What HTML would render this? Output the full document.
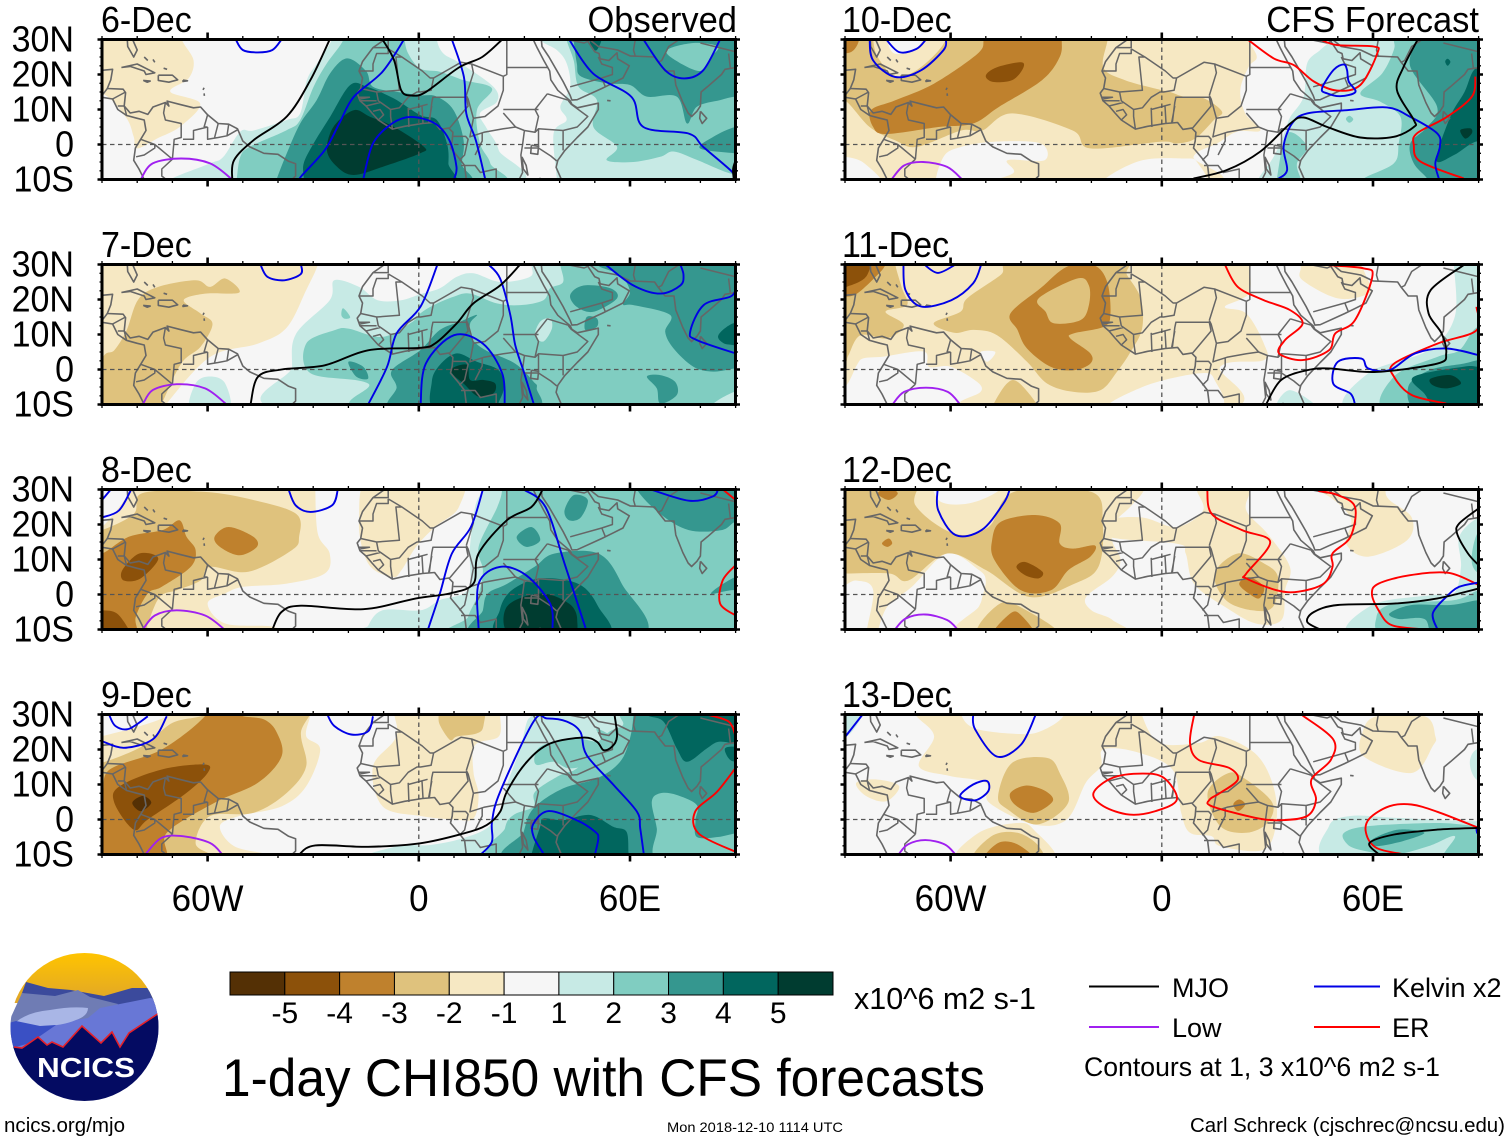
<!DOCTYPE html>
<html lang="en">
<head>
<meta charset="utf-8">
<title>1-day CHI850 with CFS forecasts</title>
<style>
html,body{margin:0;padding:0;background:#fff;}
svg{display:block;font-family:"Liberation Sans",sans-serif;}
</style>
</head>
<body>
<svg id="chart" xmlns="http://www.w3.org/2000/svg" width="1510" height="1142" viewBox="0 0 1510 1142">
  <rect x="0" y="0" width="1510" height="1142" fill="#fff"/>
  <defs id="defs"></defs>
  <g id="panels"></g>
  <g id="colorbar"></g>

  <g>
    <defs>
      <clipPath id="logoClip"><circle cx="84.5" cy="1027" r="74"/></clipPath>
      <linearGradient id="sky" x1="0" y1="0" x2="0" y2="1"><stop offset="0" stop-color="#ffc400"/><stop offset="1" stop-color="#dfa52a"/></linearGradient>
    </defs>
    <g clip-path="url(#logoClip)">
      <rect x="10" y="953" width="150" height="50" fill="url(#sky)"/>
      <path d="M5 1040L26 982L48 988L71 990L104 996L132 988L165 988L165 1040Z" fill="#3b4a9c"/>
      <path d="M5 1030L22 993L55 996L78 990L90 997L118 1004L100 1030L40 1040Z" fill="#6f7cb4"/>
      <path d="M5 1060L16 1030L50 1024L88 1018L100 1008L150 998L165 1000L165 1060Z" fill="#6877d6"/>
      <path d="M16 1022Q28 1012 50 1010Q72 1006 88 1008Q88 1016 76 1020Q62 1026 42 1026Q26 1027 16 1022Z" fill="#a9b6e6"/>
      <path d="M5 1024L16 1021L40 1026L56 1025L30 1043L5 1050Z" fill="#3a50c4"/>
      <path d="M14 1047L22 1048L38 1037L47 1045L52 1042L63 1047L82 1026L101 1043L112 1032L120 1047L129 1033L159 1013L165 1013L165 1110L5 1110L5 1047Z" fill="#040b62"/>
      <path d="M14 1047L22 1048L38 1037L47 1045L52 1042L63 1047L82 1026L101 1043L112 1032L120 1047L129 1033L159 1013" fill="none" stroke="#e5202a" stroke-width="1.6"/>
    </g>
    <text x="37" y="1077" font-size="28" font-weight="bold" fill="#fff" textLength="98" lengthAdjust="spacingAndGlyphs">NCICS</text>
  </g>

  <text x="854" y="1009" font-size="30.5" fill="#000" textLength="182" lengthAdjust="spacingAndGlyphs">x10^6 m2 s-1</text>
  <text x="222" y="1096" font-size="53" fill="#000" textLength="763" lengthAdjust="spacingAndGlyphs">1-day CHI850 with CFS forecasts</text>

  <g font-size="27" fill="#000">
    <line x1="1089" x2="1159" y1="986.5" y2="986.5" stroke="#000" stroke-width="2"/>
    <text x="1172" y="997">MJO</text>
    <line x1="1314" x2="1380" y1="986.5" y2="986.5" stroke="#0000e6" stroke-width="2"/>
    <text x="1392" y="997">Kelvin x2</text>
    <line x1="1089" x2="1159" y1="1027" y2="1027" stroke="#a020f0" stroke-width="2"/>
    <text x="1172" y="1037">Low</text>
    <line x1="1314" x2="1380" y1="1027" y2="1027" stroke="#ff0000" stroke-width="2"/>
    <text x="1392" y="1037">ER</text>
    <text x="1084" y="1076" textLength="356" lengthAdjust="spacingAndGlyphs">Contours at 1, 3 x10^6 m2 s-1</text>
  </g>

  <text x="4" y="1132" font-size="20.5" fill="#000" textLength="121" lengthAdjust="spacingAndGlyphs">ncics.org/mjo</text>
  <text x="667" y="1132" font-size="14" fill="#000" textLength="176" lengthAdjust="spacingAndGlyphs">Mon 2018-12-10 1114 UTC</text>
  <text x="1190" y="1132" font-size="20.5" fill="#000" textLength="315" lengthAdjust="spacingAndGlyphs">Carl Schreck (cjschrec@ncsu.edu)</text>
</svg>

<script>
/* ---------- categories and tick labels ---------- */
const panelDates = ['6-Dec','7-Dec','8-Dec','9-Dec','10-Dec','11-Dec','12-Dec','13-Dec'];
const latTicks = [30,20,10,0,-10];
const latLabels = ['30N','20N','10N','0','10S'];
const lonTicks = [-60,0,60];
const lonLabels = ['60W','0','60E'];
const barLevels = [-5,-4,-3,-2,-1,1,2,3,4,5];
const barLabels = ['-5','-4','-3','-2','-1','1','2','3','4','5'];
const levelKeys = [-5,-4,-3,-2,-1,0,1,2,3,4,5];
const levelColors = ['#543005','#8c510a','#bf812d','#dfc27d','#f6e8c3','#f6f6f6','#c7eae5','#80cdc1','#35978f','#01665e','#003c30'];

/* ---------- shaded CHI850 regions: [level, [lon,lat,...]] painted in order ---------- */
const fill_6Dec = [
[-1,[-95,14.5,-89,14.1,-83,7.5,-81,2.2,-80,-1.1,-74.4,1.7,-67.8,5.1,-62.1,11.7,-70.6,15.1,-65.4,18.9,-64,24.1,-67.3,30,-67.3,35,-95,35]],
[1,[-24.7,35,-24.7,30,-28.9,23.2,-31.8,18.4,-33.7,8.9,-37.5,7,-47,4,-50.7,3.7,-55.5,-3.5,-59.3,-5.4,-70.1,-9.7,-72,-12,23.6,-12,22.7,-1.6,19.3,4.6,17.4,8.9,22.2,12.2,21.2,16.5,11.8,23.2,7,26,5.1,30,5,35]],
[1,[34.5,35,34.5,30,39.2,27,42,23.2,43,16.5,40.2,10.8,42,7,38.3,3.2,39.2,-9.7,39.2,-12,95,-12,95,35]],
[2,[-21.4,35,-21.4,30,-26.1,23.2,-29.9,16.5,-33.7,7,-37.5,4.1,-47.9,-.6,-50.7,-3.5,-51.7,-9.7,-52,-12,19.8,-12,20.3,-5.4,17.4,.3,16.5,9.8,20.8,16,12.7,18.4,6,20.8,.4,21.7,-3,26,-4,30,-4,35]],
[2,[42,35,42,30,44,24,45.4,16.5,50.6,12.7,49.6,5,56.3,-.6,53.4,-4.5,61,-5,68.6,-3.5,72.4,-2,79,-4.4,88.5,-8.3,95,-9,95,35]],
[3,[-20.4,24.6,-25.2,20.3,-29,12.7,-33.7,6,-37.5,-2.5,-40.3,-9.7,-41,-12,11.3,-12,12.2,-5.4,12.7,1.3,9.9,9.8,5.1,13.7,.4,14.1,-6,15,-13,16.5,-15,21]],
[3,[44,35,44,30,44.9,23.2,46,19.5,53.4,17.5,60,17,64.8,13.7,73.3,13.7,76.2,6,79,10.8,85.6,12.7,90,13.7,95,13.7,95,35]],
[2,[70.5,27,73,24,80,21,83,25,85,28,78,29]],
[3,[79.9,-1.1,83.7,2.2,89.9,5,95,5,95,-2.5,89.9,-2.5]],
[4,[-19.5,17,-25.2,7.9,-29.9,.3,-32.7,-5.4,-32.7,-9.7,-33,-12,7.5,-12,8.4,-5.4,8,.3,5.1,7,.4,8.4,-7.2,13.2,-14.7,16.5]],
[4,[48.7,31,52,31,50.6,27,49,28]],
[5,[-18.5,9.8,-24.2,5.1,-26.1,-1.6,-23.3,-6.3,-18.5,-8.7,-10,-6.3,.4,-2.5,1.4,-.6,-7.2,5.1,-13.8,7.9]]
];
const fill_7Dec = [
[-1,[-95,35,-28.7,35,-28.7,30,-32,22.7,-37.5,12,-45.7,7.4,-59.3,3.6,-71.6,-9.7,-72,-12,-95,-12]],
[-2,[-74,23.6,-63.4,25.5,-59.3,23.6,-55,26,-51,22,-60.7,21.7,-66.8,19.8,-62,16,-58.6,13,-62,6.5,-67.5,1.7,-73,-9.7,-74,-12,-95,-12,-90,3,-86.5,5.5,-83,11.2,-79.7,20]],
[1,[-24,25.5,-25.3,19.8,-34.8,10.3,-36,.8,-35,-12,95,-12,95,35,32,35,32,30,31.6,26.5,23.1,25,15.5,27.5,10.8,26.5,6,23.2,.4,21.5,-5,19.8,-11.7,19.8,-17,23.6]],
[1,[-64.8,-12,-63.4,-4,-59.3,-2,-55,-4,-54,-12]],
[2,[-32,7.4,-30.7,-1.1,-14.4,-4,-11.7,-12,95,-12,95,35,40,35,40.2,30,41,25,37.3,23.2,35.4,19.8,28.8,18.4,22.2,18.9,14.6,21.7,9.9,20.8,4.2,18.4,.4,16,-2,13.5,-10.3,9.3,-20,11.7,-24,11.2]],
[2,[-21.5,17.5,-19.5,15,-21,14.5,-22,15.5]],
[1,[33,9.8,34.5,13.7,37.3,14.6,37.8,11.7,35.4,8]],
[3,[-7.6,-.2,.4,5.5,6,11.3,11.8,13.7,16.5,15.6,14.6,13.2,15,9,19,5.5,27.4,1.7,32.6,-3.5,33.5,-5.4,31.6,-12,-6.3,-12,-6.3,-5]],
[3,[-20,2.2,-15.8,.8,-14.4,-2.6,-17.8,-2]],
[3,[43,21.3,46.8,24,54.4,23.2,56.3,20.3,49.6,16.5,44.9,17.9]],
[3,[47.7,15,50.6,14.6,50.6,12.2,47.3,11.3]],
[3,[50.6,35,50.6,30,57.2,27,60,22.2,58,18.6,61,18.4,71.4,15.6,70,10.8,72.4,6,78,.8,83.7,-.6,90,.3,95,.3,95,35]],
[3,[64.8,-2,68.6,-1.6,72.8,-3.5,73.3,-7.3,68.6,-9.7,67.6,-5.4]],
[1,[83.7,-9.7,89.9,-6.3,95,-6,95,-12,83,-12]],
[4,[85.1,9.8,89.4,13.2,95,13,95,5,89.9,6.8,86.6,7.5]],
[4,[3.7,-3.5,6,1.3,10.8,4.6,16.5,2.2,22.7,-.2,24.1,-5.4,22.6,-9.7,22.5,-12,5,-12]],
[5,[9.4,.3,13.7,1.3,14.6,-3,18.4,-3,21.7,-4,21.2,-6.8,17,-7.8,12.7,-4,9.9,-1.6]]
];
const fill_8Dec = [
[-1,[-95,19,-90,19.3,-81.7,30,-81,35,-29.4,35,-29.4,30,-28.7,17.4,-25.3,11.7,-26.7,6,-37.5,3.1,-49.8,2.2,-55,.3,-60,-2.6,-55,-8.3,-41.6,-9.2,-41,-12,-95,-12]],
[-1,[-13,35,11.4,35,11.4,25,4.6,19.3,-.8,13.6,-4.9,7,-7.6,5,-14.4,8.9,-17,21.2]],
[-2,[-95,18,-90,18.4,-81,23,-78.4,29,-60.8,29.3,-47,27,-34.8,23,-34,16.5,-36,12.7,-48.4,6.5,-59.3,7.9,-62,4,-68.8,1.2,-73.6,-.7,-77,-8.3,-78.4,-12,-95,-12]],
[-3,[-95,12,-90,11.7,-82.4,16.5,-72.8,18.4,-68,21.2,-66,16.5,-63.4,12.7,-64.8,7.9,-73,2.2,-77,.3,-80.4,-6.4,-81,-12,-95,-12]],
[-3,[-58,16.5,-54,19.3,-47,16.5,-46,13.6,-51,11.2,-56.5,13.6]],
[-4,[-84.2,7,-79.4,11.7,-74,10.3,-79,4.6,-83.8,4]],
[-4,[-95,-4.5,-90,-4.5,-85.8,-5.4,-82.4,-10,-82,-12,-95,-12]],
[1,[-14.4,-12,-14.4,-9,-10.3,-4.5,.5,-4.5,6,-1.6,14,1.5,14.5,13,16,25,18,30,18,35,95,35,95,-12]],
[2,[23.7,35,23.7,30,22.3,25,17,13.6,18.2,7,17,.3,14,-6.4,13.5,-12,95,-12,95,35]],
[3,[19.6,.3,25,3,33,8,38.6,11.7,51,11.7,57.7,3,63,-12,17,-12,18.2,-4.5]],
[3,[27.8,16.5,32,19.3,34.5,15.5,30.5,13.6]],
[3,[41.4,24,44,28.4,48,27,46,22,42.7,21.2]],
[3,[62,35,62,30,68.6,23,76.7,18.4,86,18.4,90,20.8,95,21,95,35]],
[3,[83,.3,90,5,95,5,95,-2,90,1.2]],
[4,[23,-4.5,26.4,1.2,34.5,4.6,45.4,3,51,-3.5,53,-12,23.5,-12]],
[5,[25,-3.5,34.5,.3,42.7,-2.6,45,-7.3,42.7,-12,26.4,-12]]
];
const fill_9Dec = [
[-1,[-95,24,-90,23.8,-71.6,29.5,-71,35,-30.8,35,-30.8,30,-32,23.8,-28,20,-32,9.5,-38.9,3.8,-51,1,-56.5,-1.9,-52.5,-7.6,-43,-10,-42,-12,-95,-12]],
[-1,[-5,35,23.1,35,23.1,30,22.7,23.7,16,21.3,15.5,13.7,17,7,15.5,.3,10,0,.5,1,-10.3,3.8,-13,15.2,-6.3,23.8]],
[-2,[-95,16,-90,16.2,-78.4,21,-70,27.6,-60.8,30,-60,35,-31,35,-33.5,24.8,-32,15.2,-37.5,7.6,-47,1.9,-59.3,1,-63.4,-6.7,-59.3,-10,-59,-12,-95,-12]],
[-2,[10.3,35,18.4,35,18.4,27,16.5,24.6,10.8,23.7,8.9,22.7,6,27,5.6,30,5.6,35]],
[-3,[-95,7.6,-90,7.6,-87.8,14.3,-73,20,-60.8,29.5,-60,35,-51,35,-51,30,-44,28.6,-40.3,24.8,-39,18,-45.7,10.5,-58,4.8,-71.6,-3.8,-73,-12,-95,-12]],
[-4,[-86.5,4.8,-85,9.5,-73,14.3,-60.8,15.7,-60,13.3,-66,7.6,-77,0,-81,-2.9]],
[-5,[-81.4,4.8,-78.4,6.7,-76,4.8,-79,2.4]],
[1,[-7.6,-12,-6.3,-7.6,3.2,-7.3,12,-5.5,20,-2,24,5,25,9.8,28.8,20.3,30.7,27.9,32.1,30,32.1,35,95,35,95,-12]],
[2,[24,-12,24.5,-2.5,26.9,1.3,32.6,3.7,33,7.9,40.2,12.7,44,14,47,16.5,50,21,54,25,58,27,57,30,57,35,95,35,95,-12]],
[2,[33,18.4,35.4,21.3,44,23.2,51.5,22.2,50.6,26,57.2,21.3,50.6,16.5,43,14.6,38.3,16.5,33.5,15.6]],
[3,[27.9,-12,29.8,-3.5,32.6,3.2,41,8.9,50.6,11.7,57.2,16.5,60,23.2,61,30,61,35,95,35,95,-12]],
[2,[66.2,5.1,68.6,7.5,73.3,7,79,4.1,78.6,-.3,79,-5,85,-5,90,-4,95,-4,95,-12,68.6,-12,67.6,-2.5]],
[4,[64.8,35,64.8,30,69.5,28,73.3,20.3,76.2,16.5,81.8,20.3,85.2,22.2,90,21.7,95,21.7,95,35]],
[4,[87,20.3,90,20.8,95,20,95,16.5,90,16.5,88,17.5]],
[4,[32.1,-12,32.1,-9.7,34.5,-2,35.4,.3,41,-.2,48.7,1.3,55.3,-2.1,59,-3.5,59.6,-9.7,60,-12]]
];
const fill_10Dec = [
[-1,[-95,35,24.7,35,24.7,30,27,25,24.7,22.2,22.3,15.6,23.7,8.9,28,4,21.4,3.7,15.7,.3,9,-3.5,10.5,-12,-95,-12]],
[0,[-15.4,-12,-15.4,-9.3,-5.5,-4.5,6,-4,10,-5,11,-12]],
[0,[-62,-3.5,-57,-.7,-47.5,.8,-34.5,.3,-33.3,-4.5,-43.8,-4.5,-42.5,-8.4,-57,-12,-64,-12]],
[0,[-95,-3.5,-90,-3.5,-84.5,-5.4,-79.5,-12,-95,-12]],
[-2,[-95,35,-15.4,35,-15.4,30,-16.6,22,-10.5,18.4,-.4,15.6,2.4,15,6.2,13.7,11.9,13.2,17.1,9.4,14.8,7,9.5,1.7,4.3,.3,-.4,.8,-20.3,-1.1,-25.3,4,-42.5,8.9,-51,4,-57,4,-69.6,-.7,-75.8,1.2,-83,5,-90,12.6,-95,13]],
[-1,[-82,35,-82,30,-80.7,25,-76,19.7,-69.7,21.2,-62,28.8,-61.6,35]],
[0,[-78,35,-78,30,-76,26,-70.6,27,-68,30,-68,35]],
[-3,[-82.6,9.8,-75.8,12.6,-64.7,17.4,-52.4,25.9,-50.6,30,-50.6,35,-28.4,35,-28.4,30,-29,25,-34,18.4,-46.2,10.8,-53.6,6,-63.5,5,-78.3,3,-82,5]],
[-3,[-95,35,-86,35,-86,30,-87.5,27,-90,26,-95,26]],
[-4,[-50,19.7,-47,22,-40,23.5,-39.5,21.6,-42.5,18.4,-48,17.9]],
[1,[27.5,-12,27.5,-9.7,31.8,-3.5,35.1,4.1,36.5,7.9,40.3,13.7,41.3,23.2,45,27,47.9,30,47.9,35,95,35,95,-12]],
[2,[32.7,-12,32.7,-9.7,35.6,3.2,41.3,-.6,38.4,-5.4,39.4,-9.7,39.5,-12]],
[2,[57.4,-12,57.4,-9.7,65.9,-5.4,67.3,.3,67.8,7.9,62.1,12.2,56.4,14.6,62.6,20.3,65.9,27,65.9,30,65.9,35,95,35,95,-12]],
[2,[52.3,7.3,53.3,8.2,54.4,7.2,53.3,6.2]],
[3,[72.5,35,72.5,30,70.6,22.2,78.2,10.8,75.4,5,70.6,.3,71.6,-5.4,75.4,-9.7,76,-12,95,-12,95,35]],
[4,[78,-4.4,82,8,86,15,89.1,21.7,95,22,95,.8,89.1,.8,83,-3]],
[4,[80.5,23.7,81.2,24.5,82,23.6,81.2,22.5]],
[5,[84.8,4.1,87.7,4.6,88.1,3.2,86.2,1.7]]
];
const fill_11Dec = [
[-1,[-95,35,25,35,25,30,24.7,21.7,17.9,17.9,24,16,29,7.4,29,2.7,16.6,.8,15.4,-12,-95,-12]],
[0,[-15.4,-12,-5.5,-5,10.5,-1.1,15,-3,15.4,-12]],
[0,[-95,-12,-95,-4.9,-90,-4.9,-86.6,1.3,-84.7,3.2,-79,3.7,-67.6,5.1,-66.2,.8,-60,.8,-52.5,-3.5,-51.5,-6.4,-57.2,-9.2,-58,-12]],
[0,[-51.5,5,-47.3,5,-49.6,2.2]],
[-1,[39.5,29.3,39.5,35,52.4,35,58.6,25.5,58.6,21.7,50,20.3,40,25.5]],
[-2,[-95,35,-75.7,35,-75.7,30,-73.8,23.2,-72.4,18.4,-78.5,16.5,-73.3,12.7,-78,8.9,-85.6,9.8,-89,4.1,-90,2.2,-95,2]],
[-2,[-64.8,13.2,-57.2,16.5,-55.3,20.3,-45.8,27,-42,31,-12,31,-9.9,27,-6,20.3,-5.6,11.7,-8.9,5,-12.7,-.6,-17.4,-5.9,-25,-6.4,-32.6,-4,-38.3,2.2,-46.8,9.8,-53.4,11.3,-59,10.5]],
[-2,[-48,-12,-47.7,-9.7,-44,-4,-41,-3.5,-36,-9.2,-35.5,-12]],
[-3,[-95,35,-78.5,35,-78.5,30,-81.8,26,-86.6,21.7,-90,20.8,-95,20.8]],
[-4,[-95,35,-83.2,35,-83.7,27,-89.4,23.7,-95,23]],
[-3,[-43,16,-34.5,23.2,-26.9,29.4,-19.3,29.8,-15.5,25,-14.6,15.6,-16.5,12.2,-25,10.3,-26,8.9,-20.3,4.6,-20.3,1.7,-25,-.2,-31.6,.8,-38.3,6,-41,11.3]],
[-2,[-35,20.3,-24,26,-20.7,24,-20.7,18.4,-23.1,14.1,-30.7,13.2,-33,16.5]],
[1,[32.7,-12,36.4,-5.9,45,-12]],
[1,[53.6,-12,58.6,-1.1,75.8,5.5,83.2,15,83,30,83,35,95,35,95,-12]],
[2,[64,-12,66,-2,78.3,3.6,84.5,5.5,89.4,12,95,12,95,-12]],
[3,[70,-5,76,-.2,85.7,1.7,90,2.7,95,3,95,-12,73.5,-12]],
[4,[71.5,-2.1,85.7,.8,90,.8,95,1,95,-12,79.5,-12,74.6,-6.9]],
[5,[76.4,-2.6,82,-1.6,85,-4,80.8,-5.4,77,-4.5]]
];
const fill_12Dec = [
[-1,[-95,35,-5,35,-5,30,-9,25,-14,20,-14,15,-11.7,9.8,-14.2,5,-21.5,-.7,-20,-4.5,-14,-7.3,-11.7,-12,-57,-12,-52,-3.5,-51,-.7,-50,4,-52,7,-61,11.7,-71,2.2,-78,-3.5,-81.4,-12,-84,-12,-82,1.2,-87,4,-95,3]],
[-1,[-5.5,22,4.3,19.3,11.7,24,9.9,30,10,35,25.3,35,25.3,30,24,24,30,17.4,36.4,7.9,35,1.2,34,-7.3,26.7,-8.3,17.9,-3.5,9.2,3,6.8,11.7,4.3,14.5,-15.4,16.5,-15.4,21.2]],
[-1,[34,35,34,30,45,29.3,53.6,22,52.4,14.5,58.6,10.8,69.7,15.5,71,22,64.7,27,63.5,30,63.5,35]],
[-2,[-95,35,-70,35,-70,25.5,-59,17.4,-49.2,19.3,-42,29.3,-20,29.3,-16.8,20.3,-18,7.9,-25,3,-37.5,-.7,-50,7,-61,11.7,-72,4,-77.4,6,-90,6,-95,6]],
[-1,[-63.5,35,-63.5,24,-57,20.8,-48.4,28,-43,30,-43,35]],
[0,[-63.5,35,-63.5,27,-55,26,-46,30,-46,35]],
[-2,[-52,-12,-46,-2.6,-38.5,-4.5,-29.5,-12]],
[-2,[15,6,21.6,11.7,29,8.9,33,5,31.6,-3.5,25.6,-4.5,18.2,-1.6]],
[-3,[-48.2,15.5,-45.7,20.8,-36,22.7,-29,20.3,-29,14.6,-25.3,13.1,-19,14,-20.3,10.8,-26.5,7,-31.5,1.2,-40,1.2,-47.5,9.8]],
[-3,[-80.7,28.9,-77.6,30.5,-75,28.9,-77.6,27]],
[-3,[-79.5,14.6,-77.6,16,-76.6,14.6,-78,13.6]],
[-3,[-48,-12,-43,-5.4,-40,-5.9,-36.4,-12]],
[-3,[22,3,24.7,5,29,2.2,27.7,-1.1,24.7,.3]],
[-4,[-41.3,7.9,-38.8,9.3,-33.9,6.5,-35,4.6,-38.8,5.5]],
[1,[54.3,-12,59.8,-3,76.4,-.2,83,.3,85,8,84.5,16.5,90,22,95,22,95,-12]],
[2,[61,-6.4,66,-2.6,83,-1.6,90,1.2,95,1,95,-12,64.7,-12]],
[2,[88,10,90,18,95,18,95,5,90,6]],
[3,[64.7,-5.4,71,-3,82,-3,90,-1.6,95,-2,95,-12,78.3,-12,74.6,-7,67.3,-7]]
];
const fill_13Dec = [
[-1,[-70,35,-70,30,-64.7,23.8,-69,15.2,-60,12.4,-50,10.5,-49,4.8,-36.4,-1.4,-27,0,-21.6,10.5,-17.3,15.2,-16.7,20,-8,19.5,3,14.3,5.5,1.9,8,-3.8,14.2,-4.8,16.6,-7.6,29,-8.6,32.6,0,31.4,10.5,26.4,19,16.6,23.8,10.5,21.9,-.6,21.9,-5.5,29.5,-5.5,35]],
[0,[-57,36,-57,30,-53,26,-42,24.5,-35,25,-28,29.5,-28,36]],
[-1,[-57.8,-12,-52,-3.8,-41,-1,-36.4,-2.9,-31,-12]],
[-1,[-86.8,10.5,-80.7,11.4,-74.6,9.5,-78.3,5.2,-84,6.7]],
[-1,[57,24.8,61,29.5,74.7,29.5,77.7,23.8,77,21,71,13.3,57.4,18]],
[-2,[-46.5,6.7,-42.5,16.2,-32.6,17.6,-29,13.3,-26.6,4.8,-35.3,-1.4,-43.8,2.9]],
[-2,[-53.3,-12,-48.4,-4.8,-41,-3.8,-35,-7.6,-35,-12]],
[-2,[13,7.6,19,13.3,24,11.4,31.4,4.8,30,-1,24,-3.8,16.6,-1.9]],
[-3,[-43,7.6,-38.5,9.7,-33,8.1,-31,5.2,-36.4,1.9,-41.8,4.3]],
[-3,[-50.2,-12,-46.5,-6.7,-41,-7.1,-36.4,-12]],
[-3,[20.3,4.3,22,5.7,23.7,4.3,21.7,2.4]],
[1,[48.7,-12,47.5,-1.9,53.6,1,66,.5,88,-.5,95,0,95,-12]],
[1,[-95,35,-85,35,-85,30,-89.4,23.8,-95,23]],
[1,[87.5,16.2,89.4,20,95,20,95,10,89.4,11.4]],
[2,[51.8,-3.8,58.6,-1.9,78.3,-1,89.4,-1.9,95,-2,95,-12,80,-12,83.3,-4.8,75.8,-7.6,66,-10,56,-8.6,52.4,-6.7]],
[3,[59.8,-5.7,67.2,-2.9,74.6,-3.8,68.4,-6.2,61,-7.6]]
];
const fillFields = [fill_6Dec,fill_7Dec,fill_8Dec,fill_9Dec,fill_10Dec,fill_11Dec,fill_12Dec,fill_13Dec];

/* ---------- filtered-wave contour lines: [lon,lat,...] ---------- */
const mjo_6Dec = [[-25.3,30,-30.8,18.4,-37.5,8,-47,1.2,-52.5,-4.5,-53,-10],[-10.3,30,-7,24,-5,15.5,-2,14,2,15,11.4,22,18,25,23.7,30],[90,-4.5,89.3,-7,89.5,-10]];
const kelvin_6Dec = [[-52,30,-50,27,-45.7,26.3,-41.6,27,-39,30],[-4.2,30,-10.3,20.8,-18.5,13.6,-22.6,6,-26.7,-1.6,-33.5,-9.2,-34,-11],[-15.8,-10,-13,.3,-7.6,6,-2.2,7.9,4.6,6,8.7,1.2,10.7,-6.4,10,-10],[9.4,30,12.8,19.3,13.5,8.9,16.2,1.2,18.9,-10],[42.7,30,49.5,20.3,60.4,13.6,63.8,5,76.7,3.1,80.8,-.7,89,-7.8,90,-10],[63.8,30,70,21.2,75.4,18.9,80.8,21.2,85.6,30]];
const er_6Dec = [];
const low_6Dec = [[-79,-10,-75.6,-5.4,-67.5,-4,-59.3,-5.4,-53,-10]];

const mjo_7Dec = [[-47.8,-10,-45.7,-2.1,-39,0,-26.7,1.2,-14.4,5.5,.4,6.2,4.7,7.5,10.8,13.2,15.5,18.9,23.1,24,28.8,30]];
const kelvin_7Dec = [[-45,30,-43,26.5,-38.2,25.5,-33.5,27.3,-33.5,30],[5.3,30,.5,18,-6.3,10.3,-9,.8,-14.4,-10],[.5,-10,2,1.7,10,9.8,18.2,7.4,23.7,-1.1,24.4,-10],[19.8,30,23.1,26,26,15.6,27.4,7,29.8,-.6,32.6,-9.7],[53,30,61,24,68.6,21.7,74.3,24,75.2,27,74.3,30],[90,23,88.5,20.8,80.9,18.4,77.1,10.8,79,8.4,90,4.6]];
const er_7Dec = [];
const low_7Dec = [[-78.4,-10,-75.6,-5.9,-68.8,-4.2,-60.7,-5.4,-54.6,-10]];

const mjo_8Dec = [[-41.6,-10,-39,-5,-33.5,-3.2,-15.8,-4.2,-.8,-1.1,8.7,.3,15.5,3.1,17,11.7,25,21.2,32,25,35.2,30]];
const kelvin_8Dec = [[-90,22,-85.2,24,-81.7,30],[-90,27,-87.5,30],[-37,30,-35,25.5,-30.8,23.6,-24.6,25.5,-23,30],[18.2,30,14.8,19.3,9.4,11.7,6,.3,2.6,-10],[17,-10,17,3.1,23,7.9,30.5,5.5,37.3,-2.6,38,-10],[29.8,30,36,25,41.4,8.9,47.5,-10],[65.9,30,76.7,26.8,83.5,28,85,30]];
const er_8Dec = [[86.4,30,90,27],[90,8.4,86.3,4,85.6,-2.6,90,-6]];
const low_8Dec = [[-78.4,-10,-75,-6,-68.8,-4.5,-60.7,-6,-55.2,-10]];

const mjo_9Dec = [[-34,-10,-29.4,-7.4,-14.4,-7.8,.4,-6.8,12.7,-4,19.3,-1.6,23.1,2.2,25,7.9,30.7,16.5,37.3,21.7,46.8,23.4,50.6,22.2,52.5,19.8,54.9,20.8,56.3,23.7,55.6,30]];
const kelvin_9Dec = [[-88,30,-86.2,26.7,-82.4,25.9,-77,29.5],[-90,22.4,-83.8,20.5,-75.6,22.9,-71.6,29.5],[-26,30,-24,26.7,-19.2,24.3,-14.4,25.2,-13,29.5],[17.9,-9.7,20.8,-6.3,20.8,-.6,23.1,7.9,32.6,28,36.4,28.9,42,28,45.9,25,47.7,18.4,55.3,9.9,62,2.2,62.9,-2.5,63.9,-9.7],[35.4,-9.7,32.6,-4.9,32.6,-1.1,36.9,2.4,44.9,-.2,50.1,-3.5,51,-5.4,50.1,-9.7]];
const er_9Dec = [[81.8,30,88,28,89.9,24.1],[89.9,14.6,84.7,7.9,78.5,2.2,79.5,-4,89.9,-9.2]];
const low_9Dec = [[-77.7,-10,-73,-5.2,-66.8,-4.8,-59.3,-6.7,-55.8,-10]];

const mjo_10Dec = [[9,-9.7,18.5,-7.3,28,-2,36.5,6,40.3,7.7,47,5,56.4,2,65.9,2.2,71.6,5,71.6,7,66.8,15.6,68.7,22.2,72.7,30]];
const kelvin_10Dec = [[-83,30,-82,24,-75.8,19.3,-68.4,21.2,-62,27,-61.3,30],[-78.3,30,-74.6,26.4,-69.7,27.3,-67,30],[33.2,-9.7,35.6,-7.3,34.6,-.6,37,6,41.3,8.9,52.6,9.8,64,10.6,70.6,7.9,78.2,3.2,79,-.6,77.7,-5.4,78.7,-9.7],[45.5,16,48.8,21.3,51.7,22.9,52.6,21.3,53.1,18,55,15,50.7,13.8,47,14.6,45.5,16]];
const er_10Dec = [[24.4,30,31.8,24.6,37.5,22.7,43.2,18,49.8,15.4,56.4,17,61.2,26,60.2,28,49.8,28.4,45,30],[89.1,19.4,88.1,13.7,81,7.9,72.5,3.2,71.6,-.2,73.5,-4.9,85.8,-9.7]];
const low_10Dec = [[-76.8,-10,-73.2,-6,-67.8,-5,-61,-6.4,-56.7,-10]];

const mjo_11Dec = [[29.6,-10,33.9,-3,41.3,-.2,47.5,.3,61,-.7,78.3,1.7,80.8,4.6,79.5,10.3,75.8,16,76.4,22.7,85.7,29.8]];
const kelvin_11Dec = [[-73.4,30,-72.8,22.7,-68.4,18,-59.8,19.8,-53.6,24.6,-51.3,30],[-67.5,30,-63.6,27.6,-58.6,30],[54.9,-10,53.6,-6.9,48.7,-4,50,2.2,56.7,3.1,58.6,.3,64.7,-.2,72,4.6,80.8,6,90,4.1]];
const er_11Dec = [[17.9,30,21.6,23.6,29,19.8,36.4,17,40,13.1,35,8.4,33.3,4.6,40,2.7,47.5,5.5,49.3,10.3,54.9,14.1,59.8,26.5,57.4,28.9,47.5,29.8],[89.4,17.9,89.4,11.2,78.3,7.4,66,1.7,66,-2.1,71,-7.3,80.8,-9.7]];
const low_11Dec = [[-76.5,-10,-73.2,-6.4,-67,-5.2,-60.8,-6.4,-57.3,-10]];

const mjo_12Dec = [[45,-10,41.3,-7.8,43.2,-5,50,-3,66,-2.6,78.3,-1.1,90,1.7],[90,24.6,84.5,20.3,83.9,17.4,87,11.7,90,8.4]];
const kelvin_12Dec = [[-63.7,30,-63.5,24,-58.6,17,-51.2,18.4,-45,26,-43.2,30],[78.3,-10,77,-5.4,80.8,-.7,84.5,2.2,90,3.4]];
const er_12Dec = [[12.9,30,14.2,23,22.8,18.4,30.8,15,24,6,24,4.6,32.7,1.2,38.8,.8,46,3.1,48.5,7.9,48.5,11.7,53.6,16.5,54.9,25,50,28.4,44.5,29.6],[75,-10,65.4,-8.8,61.6,-4.5,59.7,.3,61.6,3.1,70.3,5.5,81.4,6.2,90,2.7]];
const low_12Dec = [[-75.8,-10,-72.8,-6.9,-67.2,-5.7,-61,-7.3,-58,-10]];

const mjo_13Dec = [[61.7,-10,59,-6.7,66,-4.3,78.3,-2.9,90,-2.4]];
const kelvin_13Dec = [[-89.8,23.8,-85,30],[-53.6,30,-53,25.7,-46.9,18,-40,21.4,-35.8,30],[-57.3,6.7,-53.6,10,-49.7,11,-49.3,8.1,-53,5.5,-57.3,6.7],[89.6,-4,89.4,-2.6,90,-2.2]];
const er_13Dec = [[-19.4,7.6,-14,11.9,-5.5,13.1,.6,11.9,4.3,5.7,-1.8,2.4,-9.2,1.4,-16.6,3.8,-19.4,7.6],[9.2,30,8,21.9,10.5,17,19,14.8,21.6,11.4,16.6,7.6,13.6,5.7,14.2,3.8,26.5,.5,33.9,-.2,41.3,1,43.8,5.7,42.5,11.4,48,17,48.7,22.9,40,29.7],[69,-10,61,-8.1,58,-3.8,59,.3,64.7,3.8,70.9,4.3,78.3,2.2,90,-2.4]];
const low_13Dec = [[-74.8,-10,-72.1,-7.1,-67.2,-5.9,-61.7,-7.1,-58.6,-10]];

const mjoLines = [mjo_6Dec,mjo_7Dec,mjo_8Dec,mjo_9Dec,mjo_10Dec,mjo_11Dec,mjo_12Dec,mjo_13Dec];
const kelvinLines = [kelvin_6Dec,kelvin_7Dec,kelvin_8Dec,kelvin_9Dec,kelvin_10Dec,kelvin_11Dec,kelvin_12Dec,kelvin_13Dec];
const erLines = [er_6Dec,er_7Dec,er_8Dec,er_9Dec,er_10Dec,er_11Dec,er_12Dec,er_13Dec];
const lowLines = [low_6Dec,low_7Dec,low_8Dec,low_9Dec,low_10Dec,low_11Dec,low_12Dec,low_13Dec];

/* ---------- base map: coastlines and borders in lon,lat ---------- */
const coastlines = [
[-90,21.2,-87,21.5,-87.5,18.5,-88.5,16,-84,15.8,-83.3,14.8,-83.7,11,-82,9,-79.5,9.5,-77,8.6,-75.5,10.7,-72,12,-71,11,-71.5,12.4,-68,11.5,-64,10.5,-62,10.7,-60,8.5,-57,6,-54,5.8,-51.5,4.5,-50,1,-48,-.7,-44,-2.5,-40,-2.8,-37,-4.8,-35,-5.5,-35,-9,-36,-10],
[-90,13.5,-87,13,-85.5,10,-83,8.3,-80,7.5,-78,7,-77.5,4,-79,1.5,-80.5,-1,-81,-4.5,-79.5,-7,-78,-10],
[-82.8,30,-82.7,28,-81,25,-80,27,-81.3,30],
[-84.5,22,-80,23,-75,20.5,-77.5,20,-78,21,-82,22.3,-84.5,22],
[-74,19.8,-70,19.8,-68.5,18.5,-71,17.8,-74,18.3,-74,19.8],
[-78.3,18.3,-76.3,18.1,-77.2,17.8,-78.3,18.3],
[-67,18.4,-65.7,18.2,-67,18,-67,18.4],
[-61,16.2,-61.3,15.6],[-61,14.6,-60.9,13.9],[-72.5,21.8,-71.5,21.5],[-78,25,-77,24],[-75.5,24.3,-75,23.5],
[-9.7,30,-13,27.7,-16,23.7,-17,21,-16,19,-16.5,16,-17.5,14.7,-16.7,12.5,-15,11,-13.3,9,-11.5,7,-7.5,4.4,-4,5.2,1,6,4.5,6.3,6,4.3,8.5,4.7,9.7,3.5,9.5,1,9,-1,11.5,-4,13,-6,13.5,-10],
[32.5,30,33.7,27.5,35.5,24,37.2,21,37.5,18.5,39.5,15.5,43,12.5,43.5,11.5,45,10.5,51,11.8,51,10,48,5,45,2,41.5,-1.7,39.5,-4.5,39,-6.5,40.5,-10],
[34.8,30,35,28,37,25,39,21.5,41,18,43,14,43.5,12.7,45,12.8,52,16,55,17.5,58,19,59.8,22.5,56.5,24.5,56.3,26.2,54,24,51.5,24.5,51.2,26,50,26.5,48,29.5,48.5,30],
[48.5,30,51,28,56.5,27,60,25.3,67,25,68,23.5,70,21,72.5,21,73,17,75,12,76.5,9,77.5,8,79,9.5,80,11,80.2,15,82,16.5,86,20,87,21.5,90,22],
[80,9.5,81.8,7.5,80.5,6,79.8,7.5,80,9.5],
[53.5,12.6,54.5,12.5],
[32,-.2,34,-.5,33.8,-2.8,31.8,-2.5,32,-.2],
[29.3,-3.5,29.7,-7,31,-8.7,30.5,-6,29.3,-3.5],
[34.3,-9.5,34.6,-10]
];
const borders = [
[-13,27.7,-8.7,27.7,-8.7,30],[-17,21,-13,21,-13,23,-12,26,-8.7,26,-8.7,27.3],[-8.7,27.3,-4.8,25,-6.5,25,-5.5,15.5,-12,15,-16.5,16],
[-4.8,25,1,21,3.2,19,4.2,19],[4.2,19,3.5,15.5,.5,15,-.5,15,-3,13.5,-5.5,10.5,-8,10,-11.5,12.5,-12,15],
[4.2,19,12,23.5,15,23,15.5,20.5,13.5,14],[15,23,24,19.5,24,15.5,22.5,11,18.8,8,15.5,7.5,14,13,13.5,14],
[25,30,25,20,24,19.5],[25,22,36.8,22],[36.5,14.5,33,10,34,8,33,3.5],[24,10,34,10],
[3,6.4,3.7,12,4,13.5,13.5,13.5,14,11,9,5,8.7,4.7],[15.5,7.5,14.5,2],[14.5,2.2,18.5,3.5,24,4.5,27.5,5,24,9],
[9.8,2.3,13.3,2.3,14,1.5,13,-3,11.5,-4.5],[30,4,29.5,0,29,-3,29.5,-8,28.5,-10],[12,-6,16,-6,17.5,-8,22,-7,22,-10],
[16,-3,18,1,18,3.5],[27.5,5,30,4,33,3.5,34,4.5,41,4,41,-1.7],[34,4.5,34,-1,30,-1],[34,-1,37.5,-3.3,39.2,-4.7],
[41,4,45,5,48,8,43.3,11.5,42.5,12.5],[36.5,14.5,43,12.5],[-2.8,5,-3,10.5],[1.2,6.1,.9,11],[-7.5,4.4,-8,8,-8,10],
[-11.5,7,-10,8.5,-11,10,-13,9.5],[2.8,6.3,3.7,11],[-3,10,2.5,11.5],[-17,13.5,-14,13.5,-16.7,13],[-16.7,12.5,-12,12.5],[-15,11,-11,12],
[43,16.5,52,19,55,20,55,22,52,23,51,25],[53,16.5,52,19],[42,30,47,29,48,29.5],[61.5,30,61,27,61.5,25.2],[74,30,71,28,69,24,68,23.5],
[80,29,88,27,90,26.5],[88,26,88.5,22],[-72,12,-72.5,9,-72,7,-67.5,6,-67.5,2,-69.5,1.5,-70,-4.2],[-60,8.5,-61,5,-60,5],
[-60,5,-60,1.5,-57,2,-54.5,2.5,-51.5,4.2],[-57,6,-58,2],[-54,5.8,-54.5,2.5],[-60,5,-64,4,-64,1.5,-67,1.5],[-79,1.5,-75,0,-70,-4.2],
[-80.3,-3.5,-78,-3,-75,-1,-75,0],[-70,-4.2,-73,-7,-73,-9,-70.5,-11],[-83,8.3,-83.7,11],[-85.5,11,-83.7,11],[-87,13,-83.3,15],[-88.5,16,-90,14]
];

/* ---------- axis functions ---------- */
const NS = 'http://www.w3.org/2000/svg';
const pxPerLon = 3.52, pxPerLat = 3.5, panelWidth = 633.5, panelHeight = 140;
function panelOrigin(i){
  const col = i < 4 ? 0 : 1, row = i % 4;
  return {left: col === 0 ? 102 : 845, top: 39.5 + row * 225, col: col, row: row};
}
function xScale(o, lon){ return o.left + (lon + 90) * pxPerLon; }
function yScale(o, lat){ return o.top + (30 - lat) * pxPerLat; }
function colorOf(level){ return levelColors[levelKeys.indexOf(level)]; }
function project(o, pts){
  const out = [];
  for (let k = 0; k < pts.length; k += 2) out.push([xScale(o, pts[k]), yScale(o, pts[k+1])]);
  return out;
}
function f(n){ return n.toFixed(1); }
function splinePath(p, closed){
  const n = p.length;
  if (n < 3) return 'M' + p.map(q => f(q[0]) + ' ' + f(q[1])).join('L');
  const at = i => closed ? p[(i + n) % n] : p[Math.max(0, Math.min(n - 1, i))];
  let d = 'M' + f(p[0][0]) + ' ' + f(p[0][1]);
  const last = closed ? n : n - 1;
  for (let i = 0; i < last; i++) {
    const a = at(i-1), b = at(i), c = at(i+1), e = at(i+2);
    d += 'C' + f(b[0] + (c[0]-a[0])/6) + ' ' + f(b[1] + (c[1]-a[1])/6) + ' ' +
         f(c[0] - (e[0]-b[0])/6) + ' ' + f(c[1] - (e[1]-b[1])/6) + ' ' + f(c[0]) + ' ' + f(c[1]);
  }
  return d + (closed ? 'Z' : '');
}
function polyPath(o, lines){
  return lines.map(l => {
    const p = project(o, l);
    return 'M' + p.map(q => f(q[0]) + ' ' + f(q[1])).join('L');
  }).join('');
}
function make(parent, tag, attrs, text){
  const el = document.createElementNS(NS, tag);
  for (const k in attrs) el.setAttribute(k, attrs[k]);
  if (text !== undefined) el.textContent = text;
  parent.appendChild(el);
  return el;
}
function condensed(x, y){ return 'translate(' + x + ' ' + y + ') scale(.945 1)'; }
function drawWave(group, o, lines, color, width){
  lines.forEach(l => {
    const p = project(o, l);
    let closed = false;
    if (l.length > 6 && l[0] === l[l.length-2] && l[1] === l[l.length-1]) { p.pop(); closed = true; }
    const el = make(group, 'path', {d: splinePath(p, closed), fill: 'none', stroke: color, 'stroke-width': width, 'stroke-linejoin': 'round'});
    
    
  });
}

/* ---------- panels ---------- */
const panelsRoot = document.getElementById('panels');
const defs = document.getElementById('defs');
panelDates.forEach((date, i) => {
  const o = panelOrigin(i);
  const clip = make(defs, 'clipPath', {id: 'clip' + i});
  make(clip, 'rect', {x: o.left, y: o.top, width: panelWidth, height: panelHeight});

  const g = make(panelsRoot, 'g', {});
  
  

  const bg = make(g, 'rect', {x: o.left, y: o.top, width: panelWidth, height: panelHeight, fill: colorOf(0)});
  
  

  const inner = make(g, 'g', {'clip-path': 'url(#clip' + i + ')'});
  
  

  fillFields[i].forEach(region => {
    const el = make(inner, 'path', {d: splinePath(project(o, region[1]), true), fill: colorOf(region[0])});
    
    
  });

  const land = make(inner, 'path', {d: polyPath(o, coastlines), fill: 'none', stroke: '#666', 'stroke-width': 1.6, 'stroke-linejoin': 'round'});
  
  
  const bord = make(inner, 'path', {d: polyPath(o, borders), fill: 'none', stroke: '#666', 'stroke-width': 1.5, 'stroke-linejoin': 'round'});
  
  

  const eq = make(inner, 'line', {x1: xScale(o,-90), x2: xScale(o,90), y1: yScale(o,0), y2: yScale(o,0), stroke: '#555', 'stroke-width': 1.3, 'stroke-dasharray': '4.5 3.5'});
  
  
  const pm = make(inner, 'line', {x1: xScale(o,0), x2: xScale(o,0), y1: yScale(o,30), y2: yScale(o,-10), stroke: '#555', 'stroke-width': 1.3, 'stroke-dasharray': '4.5 3.5'});
  
  

  drawWave(inner, o, lowLines[i], '#a020f0', 1.9);
  drawWave(inner, o, erLines[i], '#ff0000', 1.9);
  drawWave(inner, o, kelvinLines[i], '#0000e6', 1.9);
  drawWave(inner, o, mjoLines[i], '#000', 1.9);

  /* frame and ticks */
  let tickMinor = '', tickMajor = '';
  for (let lon = -90; lon <= 90; lon += 10) {
    const x = f(xScale(o, lon));
    const major = lonTicks.indexOf(lon) >= 0;
    const len = major ? 7 : 3.5;
    const s = 'M' + x + ' ' + f(o.top - len) + 'V' + f(o.top) + 'M' + x + ' ' + f(o.top + panelHeight) + 'V' + f(o.top + panelHeight + len);
    if (major) tickMajor += s; else tickMinor += s;
  }
  for (let lat = -10; lat <= 30; lat += 2.5) {
    const y = f(yScale(o, lat));
    const major = latTicks.indexOf(lat) >= 0;
    const len = major ? 4.5 : 2.5;
    const s = 'M' + f(o.left - len) + ' ' + y + 'H' + f(o.left) + 'M' + f(o.left + panelWidth) + ' ' + y + 'H' + f(o.left + panelWidth + len);
    if (major) tickMajor += s; else tickMinor += s;
  }
  const minor = make(g, 'path', {d: tickMinor, stroke: '#000', 'stroke-width': 1.3, fill: 'none'});
  
  
  const majorP = make(g, 'path', {d: tickMajor, stroke: '#000', 'stroke-width': 2.6, fill: 'none'});
  
  
  const frame = make(g, 'rect', {x: o.left, y: o.top, width: panelWidth, height: panelHeight, fill: 'none', stroke: '#000', 'stroke-width': 3});
  
  

  /* labels */
  const title = make(g, 'text', {transform: condensed(o.left - (o.col === 0 ? 1 : 3), o.top - 7.5), 'font-size': 36, fill: '#000'}, date);
  
  

  if (o.col === 0) {
    latTicks.forEach((lat, k) => {
      const t = make(g, 'text', {transform: condensed(o.left - 28, yScale(o, lat) + 12), 'font-size': 36, 'text-anchor': 'end', fill: '#000'}, latLabels[k]);
      
      
    });
  }
  if (o.row === 3) {
    lonTicks.forEach((lon, k) => {
      const t = make(g, 'text', {transform: condensed(xScale(o, lon), 911), 'font-size': 37, 'text-anchor': 'middle', fill: '#000'}, lonLabels[k]);
      
      
    });
  }
});

/* panel-group captions */
const obs = make(panelsRoot, 'text', {transform: condensed(737, 32), 'font-size': 36.5, 'text-anchor': 'end', fill: '#000'}, 'Observed');


const cfs = make(panelsRoot, 'text', {transform: condensed(1479, 32), 'font-size': 36.5, 'text-anchor': 'end', fill: '#000'}, 'CFS Forecast');



/* ---------- colorbar ---------- */
const cbRoot = document.getElementById('colorbar');
const cbLeft = 230, cbTop = 972, cbHeight = 23, cbStep = 603 / levelColors.length;
levelColors.forEach((c, k) => {
  const r = make(cbRoot, 'rect', {x: cbLeft + k * cbStep, y: cbTop, width: cbStep, height: cbHeight, fill: c, stroke: '#000', 'stroke-width': 1});
  
  
});
barLevels.forEach((lv, k) => {
  const t = make(cbRoot, 'text', {x: cbLeft + (k + 1) * cbStep, y: 1023, 'font-size': 30, 'text-anchor': 'middle', fill: '#000'}, barLabels[k]);
  
  
});
</script>
</body>
</html>
